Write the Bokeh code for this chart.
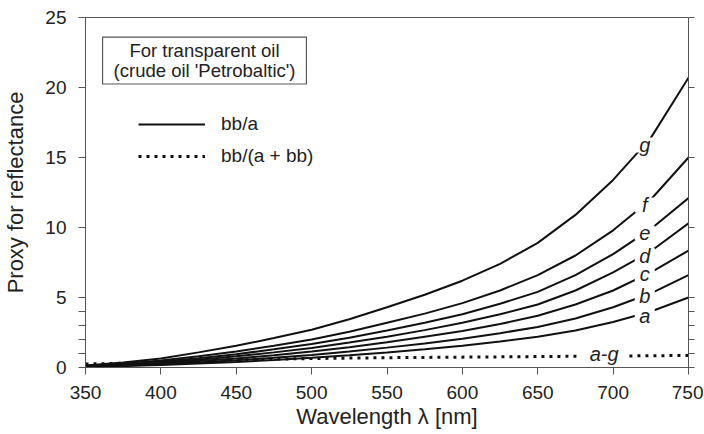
from bokeh.plotting import figure
from bokeh.models import Range1d, FixedTicker, LinearAxis, Label, Legend, LegendItem
from bokeh.core.properties import value
from bokeh.embed import file_html
from bokeh.resources import INLINE

# ---------------- data ----------------
wavelength = [350, 375, 400, 425, 450, 475, 500, 525, 550, 575, 600, 625, 650, 675, 700, 725, 750]

curve_a = [0.06, 0.11, 0.18, 0.28, 0.39, 0.53, 0.69, 0.87, 1.08, 1.30, 1.55, 1.85, 2.20, 2.65, 3.25, 4.00, 5.00]
curve_b = [0.07, 0.13, 0.23, 0.36, 0.51, 0.69, 0.90, 1.14, 1.42, 1.72, 2.05, 2.45, 2.90, 3.50, 4.30, 5.30, 6.60]
curve_c = [0.08, 0.16, 0.29, 0.46, 0.65, 0.88, 1.14, 1.45, 1.80, 2.20, 2.60, 3.10, 3.70, 4.50, 5.50, 6.80, 8.35]
curve_d = [0.09, 0.19, 0.35, 0.55, 0.80, 1.08, 1.40, 1.78, 2.20, 2.67, 3.20, 3.80, 4.50, 5.50, 6.80, 8.30, 10.30]
curve_e = [0.10, 0.22, 0.42, 0.66, 0.95, 1.30, 1.68, 2.13, 2.65, 3.20, 3.80, 4.55, 5.40, 6.60, 8.10, 9.90, 12.10]
curve_f = [0.12, 0.27, 0.50, 0.80, 1.15, 1.55, 2.00, 2.55, 3.20, 3.85, 4.60, 5.50, 6.60, 8.00, 9.80, 12.00, 15.00]
curve_g = [0.15, 0.35, 0.65, 1.08, 1.55, 2.10, 2.70, 3.45, 4.30, 5.20, 6.20, 7.40, 8.90, 10.90, 13.40, 16.40, 20.70]
curves = [curve_a, curve_b, curve_c, curve_d, curve_e, curve_f, curve_g]

ratio_all = [0.25, 0.30, 0.37, 0.45, 0.55, 0.60, 0.64, 0.67, 0.70, 0.72, 0.74, 0.76, 0.78, 0.80, 0.82, 0.84, 0.86]

curve_names = ["a", "b", "c", "d", "e", "f", "g"]
label_wl = [721, 721, 721, 721, 721, 721, 721]
label_val = [3.7, 5.1, 6.7, 8.0, 9.6, 11.6, 15.9]
ratio_label = ["a-g"]
ratio_label_wl = [694]
ratio_label_val = [0.95]

y_ticks = [0, 5, 10, 15, 20, 25]
y_minor = [1, 2, 3, 4]
x_ticks = [350, 400, 450, 500, 550, 600, 650, 700, 750]

FONT = "Liberation Sans"
AX = "#555555"
INK = "#111111"
TXT = "#222222"

p = figure(frame_width=603, frame_height=350,
           x_range=Range1d(350, 750), y_range=Range1d(0, 25),
           output_backend="svg", toolbar_location=None,
           min_border_left=78, min_border_right=15, min_border_top=17, min_border_bottom=67)
p.xgrid.visible = False
p.ygrid.visible = False
p.outline_line_color = AX
p.outline_line_width = 1
p.background_fill_color = "white"
p.border_fill_color = "white"

# axes
p.xaxis.ticker = FixedTicker(ticks=x_ticks, minor_ticks=[])
p.yaxis.ticker = FixedTicker(ticks=y_ticks, minor_ticks=y_minor)
for ax in (p.xaxis[0], p.yaxis[0]):
    ax.axis_line_color = AX
    ax.major_tick_line_color = AX
    ax.minor_tick_line_color = AX
    ax.major_tick_in = 0
    ax.major_tick_out = 7
    ax.minor_tick_in = 0
    ax.minor_tick_out = 7
    ax.major_label_text_font = FONT
    ax.major_label_text_font_size = "19px"
    ax.major_label_text_color = TXT
    ax.axis_label_text_font = FONT
    ax.axis_label_text_font_style = "normal"
    ax.axis_label_text_font_size = "22px"
    ax.axis_label_text_color = TXT
p.xaxis.axis_label = "Wavelength λ [nm]"
p.yaxis.axis_label = "Proxy for reflectance"
p.xaxis.major_label_standoff = 11
p.xaxis.axis_label_standoff = 2
p.yaxis.major_label_standoff = 12
p.yaxis.axis_label_standoff = 14

right = LinearAxis(ticker=FixedTicker(ticks=y_ticks, minor_ticks=y_minor),
                   major_label_text_font_size="0px",
                   axis_line_color=AX, major_tick_line_color=AX, minor_tick_line_color=AX,
                   major_tick_in=0, major_tick_out=6, minor_tick_in=0, minor_tick_out=6)
p.add_layout(right, "right")

# curves
solid_r = None
for c in curves:
    solid_r = p.line(wavelength, c, line_color=INK, line_width=2)

dot_r = p.line(wavelength, ratio_all, line_color=INK, line_width=3, line_dash="3 5", line_cap="butt")

# white patches that break the lines where the labels sit
p.rect(x=label_wl, y=label_val, width=20, height=15, width_units="screen", height_units="screen",
       fill_color="white", line_color=None)
p.rect(x=ratio_label_wl, y=ratio_label_val, width=46, height=12, width_units="screen",
       height_units="screen", fill_color="white", line_color=None)

p.text(x=label_wl, y=label_val, text=curve_names,
       text_font=value(FONT), text_font_style="italic", text_font_size="20px",
       text_color=TXT, text_align="center", text_baseline="middle")
p.text(x=ratio_label_wl, y=ratio_label_val, text=ratio_label,
       text_font=value(FONT), text_font_style="italic", text_font_size="20px",
       text_color=TXT, text_align="center", text_baseline="middle")

# info box
box = Label(x=119, y=307, x_units="screen", y_units="screen",
            text="For transparent oil\n(crude oil 'Petrobaltic')",
            text_font=FONT, text_font_size="18.5px", text_color=TXT, text_line_height=0.95,
            text_align="center", text_baseline="middle",
            border_line_color=AX, border_line_width=1.2,
            background_fill_color="white", padding=(11, 3))
p.add_layout(box)

# legend
legend = Legend(items=[LegendItem(label="bb/a", renderers=[solid_r]),
                       LegendItem(label="bb/(a + bb)", renderers=[dot_r])],
                location=(53, 200), glyph_width=67, glyph_height=20, label_height=20,
                spacing=10, label_standoff=16, padding=0, margin=0,
                border_line_alpha=0, background_fill_alpha=0,
                label_text_font=FONT, label_text_font_size="19px", label_text_color=TXT)
p.add_layout(legend)

open("out.html", "w").write(file_html(p, INLINE))
